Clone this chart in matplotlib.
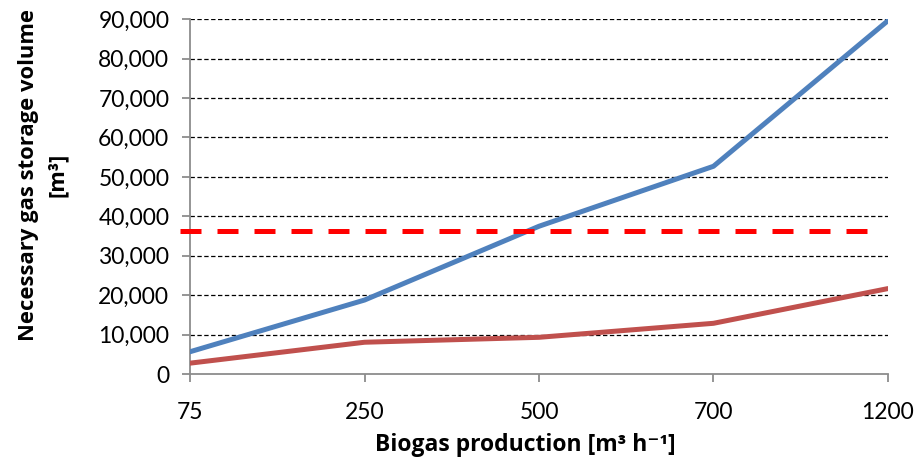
import matplotlib.pyplot as plt
from matplotlib.ticker import FuncFormatter

plt.rcParams["font.family"] = ["Lato", "DejaVu Sans"]

categories = ["75", "250", "500", "700", "1200"]
storage_high = [5700, 18800, 37500, 52700, 89600]
storage_low = [2800, 8100, 9350, 12900, 21700]
limit_value = 36400
limit_span = [-0.06, 3.92]

fig = plt.figure(figsize=(9.23, 4.66), dpi=100)
ax = fig.add_axes([0.206, 0.197, 0.756, 0.762])

x = list(range(len(categories)))
ax.plot(x, storage_high, color="#4F81BD", lw=3.6, solid_capstyle="round", zorder=3)
ax.plot(x, storage_low, color="#C0504D", lw=3.6, solid_capstyle="round", zorder=3)
ax.plot(limit_span, [limit_value, limit_value], color="#FF0000", lw=3.6,
        dashes=(4.2, 3.2), clip_on=False, zorder=4)

ax.set_xlim(0, len(categories) - 1)
ax.set_ylim(0, 90000)
ax.set_xticks(x)
ax.set_xticklabels(categories)
ax.set_yticks(range(0, 90001, 10000))
ax.yaxis.set_major_formatter(FuncFormatter(lambda v, p: f"{int(v):,}"))

for v in range(10000, 90001, 10000):
    ax.axhline(v, color="black", lw=0.9, dashes=(3.5, 2), zorder=1)

for s in ["top", "right"]:
    ax.spines[s].set_visible(False)
for s in ["left", "bottom"]:
    ax.spines[s].set_color("#8C8C8C")
    ax.spines[s].set_linewidth(1.3)

ax.tick_params(axis="both", colors="#8C8C8C", labelcolor="black", labelsize=16.5,
               length=6, width=1.3, direction="out")
ax.tick_params(axis="x", pad=14)
ax.tick_params(axis="y", pad=9)

label_font = ["Open Sans", "DejaVu Sans"]
ax.set_xlabel("Biogas production [m³ h⁻¹]", fontsize=16.5, fontweight="bold",
              family=label_font)
ax.set_ylabel("Necessary gas storage volume\n[m³]", fontsize=15.8, fontweight="bold",
              family=label_font, linespacing=1.5, multialignment="center")
ax.xaxis.set_label_coords(0.48, -0.165)
ax.yaxis.set_label_coords(-0.175, 0.56)

fig.savefig("out.png", dpi=100)
